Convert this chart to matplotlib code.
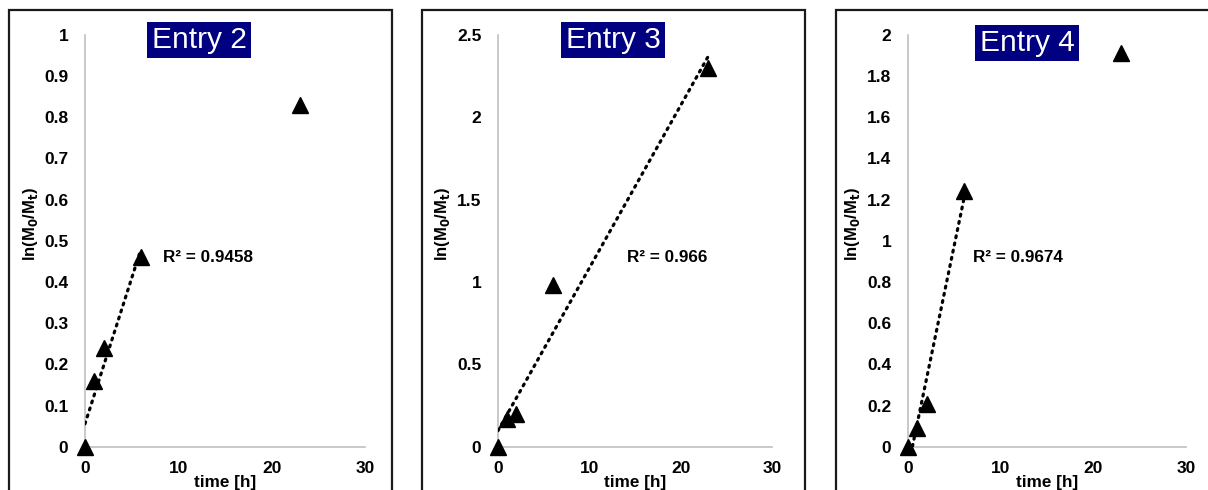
import numpy as np
import matplotlib
matplotlib.use("Agg")
import matplotlib.pyplot as plt
from matplotlib.patches import Rectangle

plt.rcParams['font.family'] = ['Liberation Sans', 'DejaVu Sans']
plt.rcParams['mathtext.default'] = 'bf'

# Kinetic data: reaction time [h] and ln(M0/Mt)
time_h = [0, 1, 2, 6, 23]
entry2 = [0.0, 0.16, 0.24, 0.46, 0.83]
entry3 = [0.0, 0.17, 0.20, 0.98, 2.30]
entry4 = [0.0, 0.09, 0.21, 1.24, 1.91]

titles = ["Entry 2", "Entry 3", "Entry 4"]
r2_labels = ["R² = 0.9458", "R² = 0.966", "R² = 0.9674"]
fit_points = [4, 5, 4]          # number of points used for the linear trendline
y_max = [1.0, 2.5, 2.0]
y_step = [0.1, 0.5, 0.2]
x_ticks = [0, 10, 20, 30]

W, H = 1208, 490
fig = plt.figure(figsize=(W / 100, H / 100), dpi=100)

def fx(px):
    return px / W

def fy(py):
    return 1 - py / H

# panel layout in pixels: frame (left, right), axes (left, width), title centre, r2 position, ylabel x
panels = [
    dict(frame=(9, 392), ax=(85, 280), title=(199, 40), r2=(8.4, 0.46), ylab=31),
    dict(frame=(422, 805), ax=(498, 274), title=(613, 40), r2=(14.1, 1.147), ylab=443),
    dict(frame=(836, 1240), ax=(908, 278), title=(1027, 43), r2=(7.0, 0.917), ylab=853),
]
series = [entry2, entry3, entry4]
ax_top, ax_bot = 34.5, 447

for i, p in enumerate(panels):
    fl, fr = p["frame"]
    fig.patches.append(Rectangle((fx(fl), fy(H + 20)), fx(fr - fl), fy(10) - fy(H + 20),
                                 transform=fig.transFigure, fill=False,
                                 edgecolor="#1a1a1a", lw=1.6, zorder=0))
    al, aw = p["ax"]
    ax = fig.add_axes([fx(al), fy(ax_bot), fx(aw), fy(ax_top) - fy(ax_bot)])
    ax.set_facecolor("none")
    x = np.array(time_h, dtype=float)
    y = np.array(series[i], dtype=float)

    # linear trendline
    n = fit_points[i]
    k, b = np.polyfit(x[:n], y[:n], 1)
    xs = np.array([x[:n].min(), x[:n].max()])
    ax.plot(xs, k * xs + b, color="black", lw=2.3, linestyle=(0, (0.6, 1.7)),
            dash_capstyle="round", zorder=3)

    ax.plot(x, y, linestyle="none", marker="^", ms=11, color="black",
            clip_on=False, zorder=4)

    ax.set_xlim(0, 30)
    ax.set_ylim(0, y_max[i])
    ax.set_xticks(x_ticks)
    yt = np.round(np.arange(0, y_max[i] + 1e-9, y_step[i]), 2)
    ax.set_yticks(yt)
    ax.set_yticklabels([f"{v:g}" for v in yt])
    for s in ["top", "right"]:
        ax.spines[s].set_visible(False)
    for s in ["left", "bottom"]:
        ax.spines[s].set_color("#c0c0c0")
        ax.spines[s].set_linewidth(1.2)
    ax.tick_params(length=0, labelsize=12.5)
    ax.tick_params(axis="y", pad=12)
    ax.tick_params(axis="x", pad=10)
    for lab in ax.get_xticklabels() + ax.get_yticklabels():
        lab.set_fontweight("bold")

    ax.text(p["r2"][0], p["r2"][1], r2_labels[i], fontsize=12.3, fontweight="bold",
            va="center", ha="left")
    ax.text(0.5, (ax_bot - 482) / (ax_bot - ax_top), "time [h]", transform=ax.transAxes,
            ha="center", va="center", fontsize=12.3, fontweight="bold")

    fig.text(fx(p["ylab"]), fy(224), r"ln(M$_\mathbf{0}$/M$_\mathbf{t}$)", rotation=90,
             ha="center", va="center", fontsize=12, fontweight="bold")

    tx, ty = p["title"]
    fig.text(fx(tx), fy(ty), titles[i], ha="center", va="center", fontsize=21.5,
             color="white",
             bbox=dict(boxstyle="square,pad=0.14", facecolor="#000080", edgecolor="none"))

fig.savefig("out.png", dpi=100)
